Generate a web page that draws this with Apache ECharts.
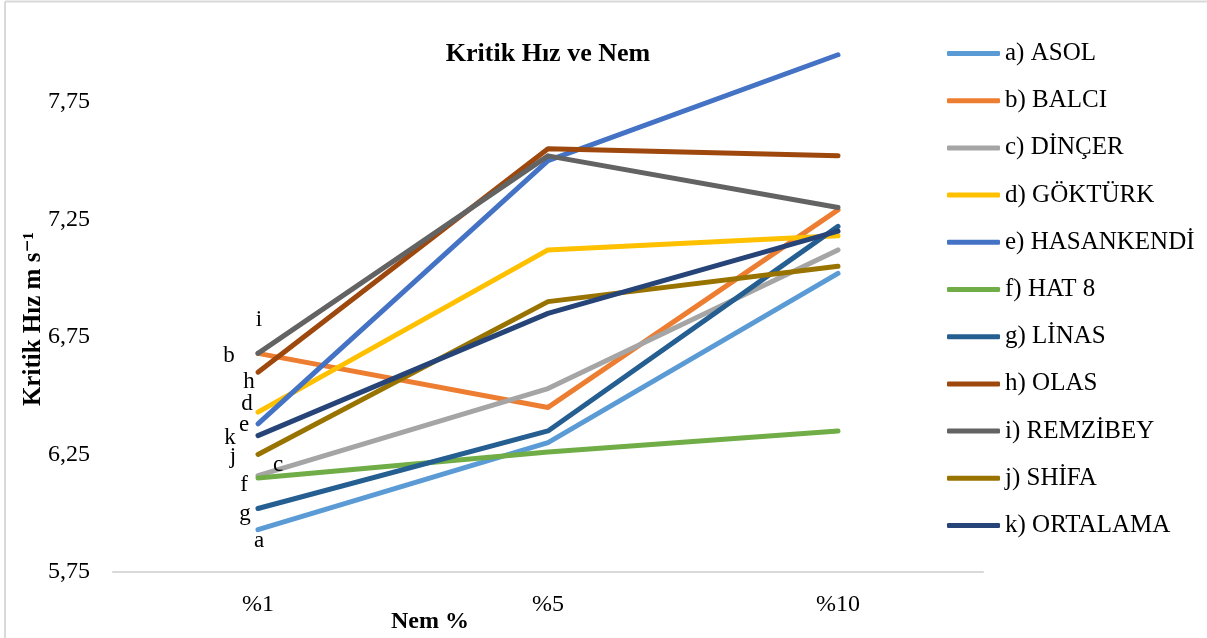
<!DOCTYPE html>
<html>
<head>
<meta charset="utf-8">
<script src="https://cdn.jsdelivr.net/npm/echarts@6/dist/echarts.min.js"></script>
<style>
html,body{margin:0;padding:0;background:#fff;}
#chart{width:1207px;height:638px;}
</style>
</head>
<body>
<div id="chart"></div>
<script>
// ---- data ----
const categories = ['%1', '%5', '%10'];
const seriesNames = ['a) ASOL', 'b) BALCI', 'c) DİNÇER', 'd) GÖKTÜRK', 'e) HASANKENDİ', 'f) HAT 8', 'g) LİNAS', 'h) OLAS', 'i) REMZİBEY', 'j) SHİFA', 'k) ORTALAMA'];
const pointLetters = ['a', 'b', 'c', 'd', 'e', 'f', 'g', 'h', 'i', 'j', 'k'];
const asol       = [5.93, 6.30, 7.02];
const balci      = [6.68, 6.45, 7.29];
const dincer     = [6.16, 6.53, 7.12];
const gokturk    = [6.43, 7.12, 7.18];
const hasankendi = [6.38, 7.50, 7.95];
const hat8       = [6.15, 6.26, 6.35];
const linas      = [6.02, 6.35, 7.22];
const olas       = [6.60, 7.55, 7.52];
const remzibey   = [6.68, 7.52, 7.30];
const shifa      = [6.25, 6.90, 7.05];
const ortalama   = [6.33, 6.85, 7.20];
const yTicks = { min: 5.75, max: 8.0, interval: 0.5 };

const allValues = [asol, balci, dincer, gokturk, hasankendi, hat8, linas, olas, remzibey, shifa, ortalama];

// ---- styles ----
const colors = ['#5B9BD5', '#ED7D31', '#A5A5A5', '#FFC000', '#4472C4', '#70AD47', '#255E91', '#9E480E', '#636363', '#997300', '#264478'];
const letterOffsets = {
  a: [1, 11], b: [-29, 3], c: [20, -11], d: [-11, -8], e: [-14, 1],
  f: [-14, 7], g: [-13, 5], h: [-9, 10], i: [1, -33], j: [-25, 3], k: [-28, 2]
};
const FONT = '"Liberation Serif", "DejaVu Serif", serif';

const series = allValues.map((vals, si) => {
  const letter = pointLetters[si];
  return {
    name: seriesNames[si],
    type: 'line',
    symbol: 'circle',
    symbolSize: 1,
    showSymbol: true,
    color: colors[si],
    lineStyle: { width: 5, color: colors[si], cap: 'round', join: 'round' },
    itemStyle: { color: colors[si] },
    emphasis: { disabled: true },
    z: 2 + si,
    data: vals.map((v, i) => i === 0 ? {
      value: v,
      label: {
        show: true,
        formatter: letter,
        position: 'inside',
        offset: letterOffsets[letter],
        color: '#000',
        fontFamily: FONT,
        fontSize: 23
      }
    } : v)
  };
});

const chart = echarts.init(document.getElementById('chart'), null, { renderer: 'canvas' });
chart.setOption({
  animation: false,
  backgroundColor: '#fff',
  title: {
    text: 'Kritik Hız ve Nem',
    left: 543,
    top: 36,
    textAlign: 'center',
    textStyle: { fontFamily: FONT, fontWeight: 'bold', fontSize: 26, color: '#000' }
  },
  graphic: [
    { type: 'line', shape: { x1: 5, y1: 1.5, x2: 1207, y2: 1.5 }, style: { stroke: '#d9d9d9', lineWidth: 2 }, silent: true },
    { type: 'line', shape: { x1: 5, y1: 1.5, x2: 5, y2: 638 }, style: { stroke: '#d9d9d9', lineWidth: 2 }, silent: true }
  ],
  legend: {
    orient: 'vertical',
    left: 942,
    top: 36,
    itemWidth: 53,
    itemHeight: 5,
    itemGap: 22.2,
    icon: 'roundRect',
    data: seriesNames,
    textStyle: { fontFamily: FONT, fontSize: 25, color: '#000', lineHeight: 24 }
  },
  grid: { left: 113, right: 224, top: 43, bottom: 66, containLabel: false, outerBoundsMode: 'none' },
  xAxis: {
    type: 'category',
    data: categories,
    boundaryGap: true,
    name: 'Nem %',
    nameLocation: 'middle',
    nameGap: 38,
    nameMoveOverlap: false,
    nameTextStyle: { fontFamily: FONT, fontWeight: 'bold', fontSize: 24, color: '#000', padding: [0, 236, 0, 0] },
    axisLine: { lineStyle: { color: '#d9d9d9', width: 2 } },
    axisTick: { show: false },
    axisLabel: { fontFamily: FONT, fontSize: 24, color: '#000', margin: 21 },
    splitLine: { show: false }
  },
  yAxis: {
    type: 'value',
    min: yTicks.min,
    max: yTicks.max,
    interval: yTicks.interval,
    name: 'Kritik Hız m s⁻¹',
    nameLocation: 'middle',
    nameGap: 67,
    nameMoveOverlap: false,
    nameTextStyle: { fontFamily: FONT, fontWeight: 'bold', fontSize: 25, color: '#000', padding: [0, 23, 0, 0] },
    axisLine: { show: false },
    axisTick: { show: false },
    splitLine: { show: false },
    axisLabel: {
      fontFamily: FONT, fontSize: 24, color: '#000', margin: 23,
      showMaxLabel: false,
      formatter: v => v.toFixed(2).replace('.', ',')
    }
  },
  series: series
});
</script>
</body>
</html>
